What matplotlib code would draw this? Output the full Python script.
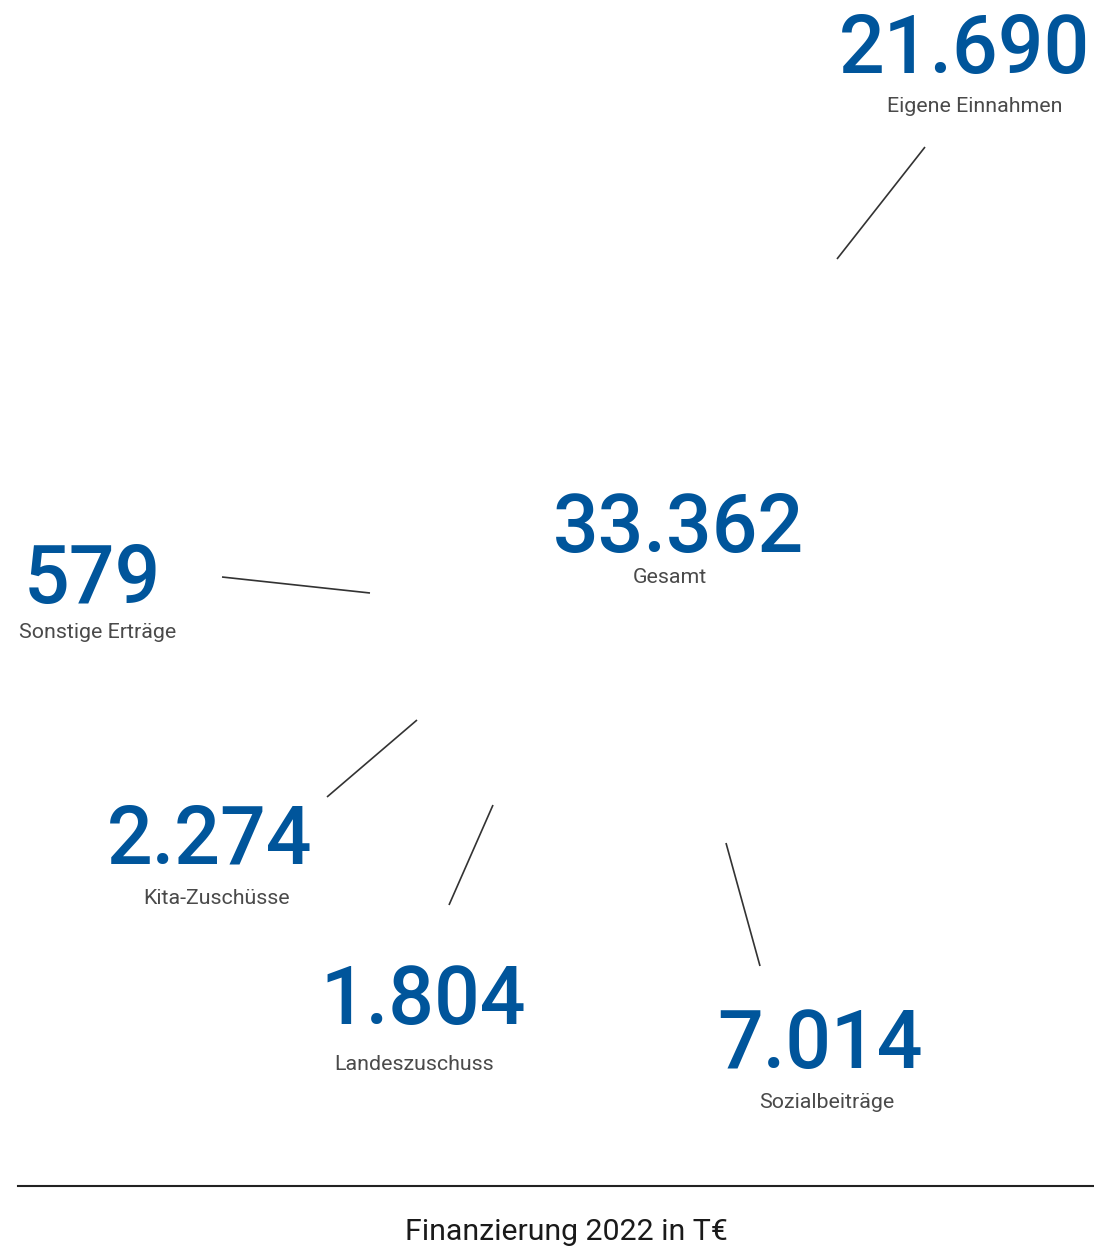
import matplotlib
matplotlib.use("Agg")
import matplotlib.pyplot as plt

# Finanzierung 2022 in T€
categories = ["Eigene Einnahmen", "Sonstige Erträge", "Kita-Zuschüsse",
              "Landeszuschuss", "Sozialbeiträge"]
values = [21690, 579, 2274, 1804, 7014]
total_label = "Gesamt"
total_value = 33362
title = "Finanzierung 2022 in T€"

BLUE = "#00559b"
GREY = "#4a4a4a"

# Layout in Pixeln: (x Zahl, Grundlinie Zahl, x Text, Grundlinie Text)
label_pos = [(965, 73, 975, 112), (92, 603, 98, 638), (210, 863, 217, 904),
             (423, 1024, 414, 1070), (820, 1068, 827, 1108)]
total_pos = (678, 552, 670, 583)
leaders = [((925, 147), (837, 259)), ((222, 577), (370, 593)),
           ((327, 797), (417, 720)), ((449, 905), (493, 805)),
           ((760, 966), (726, 843))]

W, H = 1094, 1248
fig = plt.figure(figsize=(W / 100, H / 100), dpi=100)
ax = fig.add_axes([0, 0, 1, 1])
ax.set_xlim(0, W)
ax.set_ylim(H, 0)
ax.axis("off")


def fmt(v):
    return f"{v:,}".replace(",", ".")


def big_label(xn, yn, xt, yt, value, name):
    ax.text(xn, yn, fmt(value), ha="center", va="baseline", fontsize=58,
            color=BLUE, family="Roboto", weight="medium")
    ax.text(xt, yt, name, ha="center", va="baseline", fontsize=15.4,
            color=GREY, family="Roboto")


for (xn, yn, xt, yt), v, name in zip(label_pos, values, categories):
    big_label(xn, yn, xt, yt, v, name)

big_label(*total_pos, total_value, total_label)

for (a, b) in leaders:
    ax.plot([a[0], b[0]], [a[1], b[1]], color="#333333", lw=1.2,
            solid_capstyle="butt")

ax.plot([18, W], [1186, 1186], color="#222222", lw=1.5)
ax.text(566, 1240, title, ha="center", va="baseline", fontsize=21.8,
        color="#1a1a1a", family="Roboto")

fig.savefig("out.png", dpi=100)
